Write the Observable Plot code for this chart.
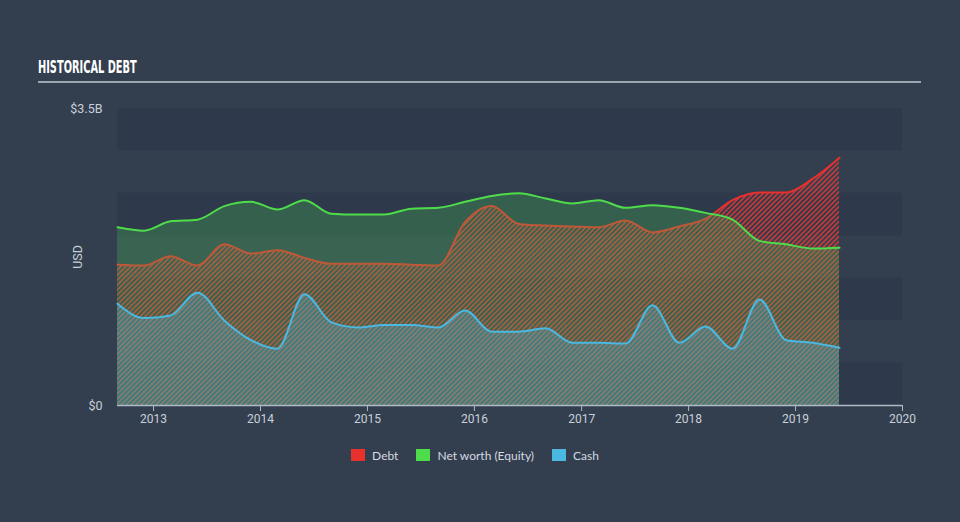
<!DOCTYPE html>
<html>
<head>
<meta charset="utf-8">
<script src="https://cdn.jsdelivr.net/npm/d3@7"></script>
<script src="https://cdn.jsdelivr.net/npm/@observablehq/plot@0.6"></script>
<style>
  html, body { margin: 0; padding: 0; background: #333f4f; }
  #wrap { position: relative; width: 960px; height: 522px; overflow: hidden; background: #333f4f; }
  #title { position: absolute; left: 38px; top: 56px; color: #ffffff; font-family: "DejaVu Sans Condensed", "Liberation Sans Narrow", sans-serif; font-weight: bold; font-size: 18.5px; transform: scaleX(0.59); transform-origin: left top; white-space: nowrap; }
  #rule { position: absolute; left: 38px; top: 81px; width: 883px; height: 2px; background: #9ba6b1; }
  #legend { position: absolute; left: -5px; top: 447px; width: 960px; text-align: center; font-family: Lato, "Noto Sans", sans-serif; font-size: 12px; color: #d3dae2; }
  #legend span.item { display: inline-block; margin: 0 9px; vertical-align: middle; }
  #legend span.sw { display: inline-block; width: 14px; height: 12px; vertical-align: -1px; margin-right: 7px; }
  #chart { position: absolute; left: 0; top: 0; }
</style>
</head>
<body>
<div id="wrap">
  <div id="chart"></div>
  <div id="title">HISTORICAL DEBT</div>
  <div id="rule"></div>
  <div id="legend"></div>
</div>
<script>
// Quarter-end dates
const dates = [
  "2012-08-31","2012-11-30","2013-02-28","2013-05-31","2013-08-31","2013-11-30","2014-02-28",
  "2014-05-31","2014-08-31","2014-11-30","2015-02-28","2015-05-31","2015-08-31","2015-11-30",
  "2016-02-29","2016-05-31","2016-08-31","2016-11-30","2017-02-28","2017-05-31","2017-08-31",
  "2017-11-30","2018-02-28","2018-05-31","2018-08-31","2018-11-30","2019-02-28","2019-05-31"
];
// Values in billions USD
const debt = [
  1.66, 1.65, 1.76, 1.65, 1.90, 1.79, 1.83,
  1.74, 1.67, 1.67, 1.67, 1.66, 1.65, 2.16,
  2.35, 2.14, 2.12, 2.11, 2.10, 2.18, 2.04,
  2.11, 2.20, 2.42, 2.51, 2.51, 2.67, 2.92
];
const equity = [
  2.10, 2.06, 2.17, 2.19, 2.35, 2.40, 2.31,
  2.42, 2.26, 2.25, 2.25, 2.32, 2.33, 2.40,
  2.47, 2.50, 2.44, 2.38, 2.42, 2.33, 2.36,
  2.33, 2.27, 2.19, 1.94, 1.90, 1.85, 1.86
];
const cash = [
  1.20, 1.03, 1.06, 1.33, 1.00, 0.77, 0.67,
  1.31, 0.98, 0.92, 0.95, 0.95, 0.92, 1.12,
  0.87, 0.87, 0.91, 0.74, 0.74, 0.73, 1.18,
  0.74, 0.93, 0.67, 1.25, 0.77, 0.74, 0.68
];
const yearTicks = [2013, 2014, 2015, 2016, 2017, 2018, 2019, 2020];
const yLabelTicks = [0, 3.5];
const bandEdges = [0, 0.5, 1, 1.5, 2, 2.5, 3, 3.5];
const seriesNames = ["Debt", "Net worth (Equity)", "Cash"];
const seriesColors = ["#e8302c", "#4fdc4a", "#4ab8e0"];

const table = dates.map((d, i) => ({ date: new Date(d + "T00:00:00"), debt: debt[i], equity: equity[i], cash: cash[i] }));
const bands = [];
for (let i = 0; i < bandEdges.length - 1; i += 2) bands.push({ y1: bandEdges[i], y2: bandEdges[i + 1] });

const curve = "monotone-x";
const plot = Plot.plot({
  width: 960,
  height: 522,
  marginLeft: 117,
  marginRight: 58,
  marginTop: 108,
  marginBottom: 117,
  style: { background: "transparent", color: "#c8d0d8", fontFamily: "Roboto, sans-serif", fontSize: "12px", overflow: "visible" },
  x: { type: "utc", domain: [table[0].date, new Date("2020-01-01T00:00:00")] },
  y: { domain: [0, 3.5] },
  marks: [
    Plot.rect(bands, { y1: "y1", y2: "y2", fill: "#2e3a4b" }),
    Plot.areaY(table, { x: "date", y: "debt", fill: "url(#hatchDebt)", fillOpacity: 0.8, curve }),
    Plot.lineY(table, { x: "date", y: "debt", stroke: seriesColors[0], strokeWidth: 2, curve }),
    Plot.areaY(table, { x: "date", y: "equity", fill: "#4dc85a", fillOpacity: 0.27, curve }),
    Plot.lineY(table, { x: "date", y: "equity", stroke: seriesColors[1], strokeWidth: 2, curve }),
    Plot.areaY(table, { x: "date", y: "cash", fill: "#4ab8e0", fillOpacity: 0.3, curve }),
    Plot.lineY(table, { x: "date", y: "cash", stroke: seriesColors[2], strokeWidth: 2, curve }),
    Plot.ruleY([0], { stroke: "#aebbc6", strokeWidth: 1.5 }),
    Plot.axisX({
      ticks: yearTicks.map(y => new Date(Date.UTC(y, 0, 1))),
      tickFormat: d => String(d.getUTCFullYear()),
      tickSize: 6, tickPadding: 3, stroke: "#aebbc6", fill: "#c8d0d8", fontSize: 12, label: null
    }),
    Plot.axisY({
      ticks: yLabelTicks, tickSize: 0, tickPadding: 15,
      tickFormat: d => d === 0 ? "$0" : `$${d}B`,
      fill: "#c8d0d8", fontSize: 12.5,
      label: "USD", labelAnchor: "center", labelArrow: "none", labelOffset: 44
    })
  ]
});

// hatch pattern for debt
const defs = d3.select(plot).insert("defs", ":first-child");
const pat = defs.append("pattern")
  .attr("id", "hatchDebt")
  .attr("patternUnits", "userSpaceOnUse")
  .attr("width", 3.5).attr("height", 3.5)
  .attr("patternTransform", "rotate(45)");
pat.append("rect").attr("width", 1.75).attr("height", 3.5).attr("fill", "#e53935");

document.getElementById("chart").appendChild(plot);

const legend = document.getElementById("legend");
seriesNames.forEach((n, i) => {
  const it = document.createElement("span");
  it.className = "item";
  const sw = document.createElement("span");
  sw.className = "sw";
  sw.style.background = seriesColors[i];
  it.appendChild(sw);
  it.appendChild(document.createTextNode(n));
  legend.appendChild(it);
});
</script>
</body>
</html>
